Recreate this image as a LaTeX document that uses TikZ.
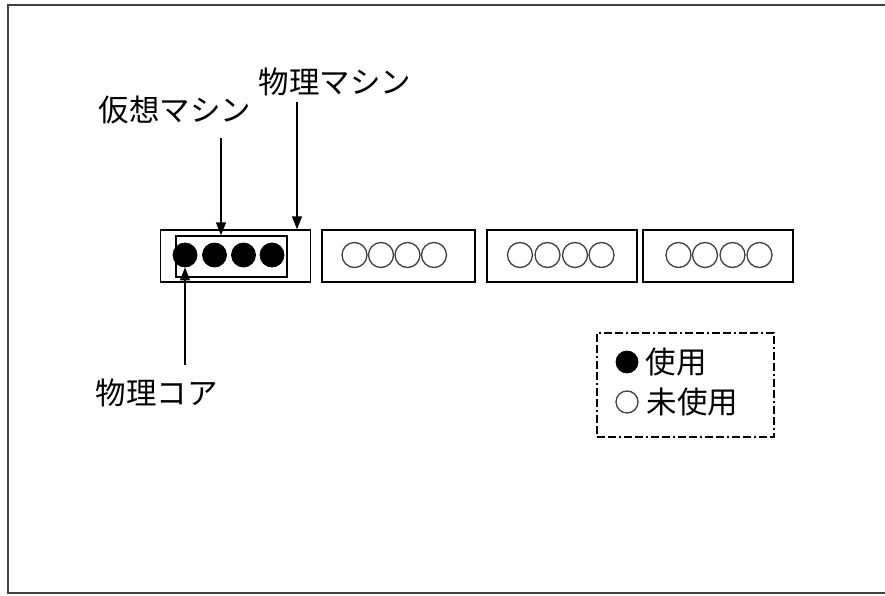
\documentclass[tikz,border=0pt]{standalone}
\usepackage{fontspec}
\newfontfamily\jp{Noto Sans CJK JP}
\usetikzlibrary{arrows.meta}
\begin{document}
\begin{tikzpicture}[x=1pt,y=-1pt,
  pmbox/.style={draw=black,line width=1.4pt,minimum width=150pt,minimum height=52pt,inner sep=0pt},
  vmbox/.style={draw=black,line width=1.4pt,minimum width=111pt,minimum height=41pt,inner sep=0pt},
  used/.style={circle,fill=black,draw=black,line width=0.8pt,minimum size=24pt,inner sep=0pt},
  free/.style={circle,draw=black!75,line width=1.3pt,minimum size=25pt,inner sep=0pt},
  lab/.style={font=\jp\fontsize{30.5}{31}\selectfont,anchor=west,inner sep=0pt},
  arr/.style={line width=1.4pt,-{Triangle[width=10pt,length=13pt]}},
  legbox/.style={draw=black,line width=1.3pt,dash pattern=on 8pt off 3pt on 8pt off 3pt on 2pt off 3pt}]
\useasboundingbox (0,0) rectangle (885,596);
% outer frame
\draw[line width=2pt,black!75] (886,5.5) -- (7.5,5.5) -- (7.5,593) -- (886,593);
% machines
\node[pmbox] (pm1) at (235.5,256) {};
\node[pmbox,minimum width=153pt] (pm2) at (398.5,256) {};
\node[pmbox] (pm3) at (562,256) {};
\node[pmbox] (pm4) at (718,256) {};
\node[vmbox] (vm) at (231.5,256.5) {};
% cores
\node[used] (c1) at (185,255) {};
\node[used] (c2) at (214.5,255) {};
\node[used] (c3) at (243.5,255) {};
\node[used] (c4) at (272,255) {};
\node[free] (d1) at (354.5,255) {};
\node[free] (d2) at (381,255) {};
\node[free] (d3) at (407.5,255) {};
\node[free] (d4) at (434,255) {};
\node[free] (e1) at (520,255) {};
\node[free] (e2) at (547.5,255) {};
\node[free] (e3) at (575,255) {};
\node[free] (e4) at (601.5,255) {};
\node[free] (f1) at (678.5,255) {};
\node[free] (f2) at (705,255) {};
\node[free] (f3) at (732.5,255) {};
\node[free] (f4) at (759.5,255) {};
% labels
\node[lab] (lvm) at (98.5,110) {仮想マシン};
\node[lab] (lpm) at (258.5,82) {物理マシン};
\node[lab] (lcore) at (95.5,393) {物理コア};
% arrows
\coordinate (svm) at (221,138);
\coordinate (spm) at (297,102);
\coordinate (score) at (185,365);
\draw[arr] (svm) -- (svm |- vm.north);
\draw[arr] (spm) -- (spm |- pm1.north);
\draw[arr] (score) -- (c1.south);
% legend
\node[legbox,minimum width=177pt,minimum height=104pt,inner sep=0pt] (leg) at (685.5,385) {};
\node[used,minimum size=22pt] (lu) at (627,362) {};
\node[free,minimum size=22pt] (lf) at (627,402) {};
\node[lab] (tu) at (645.5,362) {使用};
\node[lab] (tf) at (646.5,402) {未使用};
\end{tikzpicture}
\end{document}
